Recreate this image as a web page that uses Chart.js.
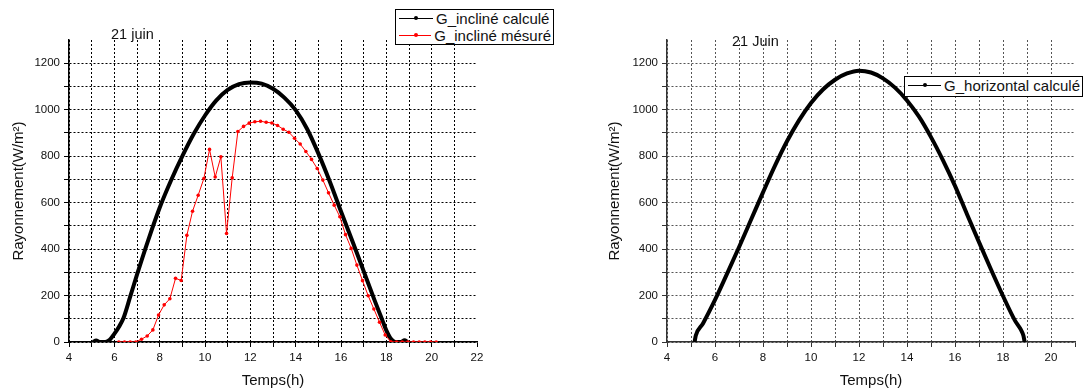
<!DOCTYPE html>
<html>
<head>
<meta charset="utf-8">
<script src="https://cdn.jsdelivr.net/npm/chart.js@4.4.0/dist/chart.umd.min.js"></script>
<style>
body{margin:0;background:#fff;font-family:"Liberation Sans",Arial,sans-serif;}
#wrap{position:relative;width:1084px;height:392px;overflow:hidden;}
.panel{position:absolute;top:0;width:542px;height:392px;}
.note{position:absolute;font-size:14.5px;color:#111;line-height:1;white-space:nowrap;}
.leg{position:absolute;border:1px solid #000;background:#fff;font-size:15px;color:#111;padding:0 2px 0 3px;}
.leg div{height:17px;line-height:17px;white-space:nowrap;display:flex;align-items:center;}
.leg .smp{display:inline-block;width:34px;height:0;border-top:1px solid;position:relative;margin-right:3px;}
.leg .smp i{position:absolute;left:15px;top:-3px;width:4px;height:4px;border-radius:2px;}
</style>
</head>
<body>
<div id="wrap">
  <div class="panel" style="left:0"><canvas id="chartIncline" width="542" height="392"></canvas></div>
  <div class="panel" style="left:542px"><canvas id="chartHoriz" width="542" height="392"></canvas></div>
  <div class="note" style="left:111px;top:27px">21 juin</div>
  <div class="note" style="left:732px;top:34px">21 Juin</div>
  <div class="leg" id="legIncline" style="left:395px;top:9px;width:152px;height:34px"></div>
  <div class="leg" id="legHoriz" style="left:904px;top:76px;width:172px;height:19px"></div>
</div>
<script>
// Donnees (21 juin)
var tempsCalc = [5.05, 5.2, 5.35, 5.6, 5.8, 6, 6.2, 6.4, 6.7, 7, 7.5, 8, 8.5, 9, 9.5, 10, 10.5, 11, 11.5, 12,
                 12.5, 13, 13.5, 14, 14.5, 15, 15.5, 16, 16.5, 17, 17.5, 17.8, 18, 18.2, 18.4, 18.65, 18.8, 18.95];
var gInclineCalc = [0, 6, 0, 0, 10, 35, 65, 102, 195, 290, 440, 578, 695, 800, 895, 975, 1040, 1085, 1110, 1117,
                    1112, 1090, 1052, 998, 918, 812, 692, 562, 435, 305, 175, 100, 50, 14, 0, 0, 7, 0];

var tempsMesure = [6.2, 6.45, 6.7, 6.95, 7.2, 7.45, 7.7, 7.95, 8.2, 8.45, 8.7, 8.95, 9.2, 9.45, 9.7, 9.95,
                   10.2, 10.45, 10.7, 10.95, 11.2, 11.45, 11.7, 11.95, 12.2, 12.45, 12.7, 12.95, 13.2, 13.45,
                   13.7, 13.95, 14.2, 14.45, 14.7, 14.95, 15.2, 15.45, 15.7, 15.95, 16.2, 16.45, 16.7, 16.95,
                   17.2, 17.45, 17.7, 17.95, 18.2, 18.45, 18.7, 18.95, 19.2, 19.45, 19.7, 19.95, 20.2];
var gInclineMesure = [0, 0, 0, 0, 12, 26, 52, 116, 160, 186, 274, 265, 459, 563, 632, 704,
                      829, 710, 797, 467, 707, 906, 928, 942, 948, 950, 946, 943, 932, 916,
                      903, 877, 852, 820, 786, 747, 697, 642, 589, 539, 462, 403, 331, 264,
                      199, 142, 85, 30, 1, 0, 0, 0, 0, 0, 0, 0, 0];

var tempsHoriz = [5.15, 5.2, 5.5, 6, 6.5, 7, 7.5, 8, 8.5, 9, 9.5, 10, 10.5, 11, 11.5, 12, 12.5, 13,
                  13.5, 14, 14.5, 15, 15.5, 16, 16.5, 17, 17.5, 18, 18.5, 18.75, 18.85, 18.9];
var gHorizCalc = [0, 28, 80, 181, 293, 408, 526, 644, 759, 864, 954, 1029, 1087, 1129, 1156, 1168, 1160, 1135,
                  1095, 1040, 970, 882, 782, 672, 550, 430, 312, 198, 92, 52, 28, 0];

var yTicks = [0, 200, 400, 600, 800, 1000, 1200];
var xTicksGauche = [4, 6, 8, 10, 12, 14, 16, 18, 20, 22];
var xTicksDroite = [4, 6, 8, 10, 12, 14, 16, 18, 20];

Chart.defaults.font.family = '"Liberation Sans", Arial, sans-serif';
Chart.defaults.color = '#111';

function points(xs, ys) {
  return xs.map(function (x, i) { return {x: x, y: ys[i]}; });
}

function makeScales(xMax, xLabels, yAxisWidth, titlePad, gridColor, axisColor) {
  return {
    x: {
      type: 'linear', min: 4, max: xMax,
      afterFit: function (s) { s.height = 50; },
      ticks: {
        stepSize: 1, autoSkip: false, maxRotation: 0, padding: 4,
        font: {size: 11.5},
        callback: function (v) { return xLabels.indexOf(v) >= 0 ? v : ''; }
      },
      grid: {
        color: function (c) { return (c.tick && c.tick.value === xMax) ? 'rgba(0,0,0,0)' : gridColor; },
        tickColor: axisColor, tickLength: 5, lineWidth: 1
      },
      border: {display: true, color: axisColor, width: 1.5, dash: [2, 2]},
      title: {display: true, text: 'Temps(h)', font: {size: 15}, padding: {top: 0, bottom: 2}, color: '#111'}
    },
    y: {
      type: 'linear', min: 0, max: 1300,
      afterFit: function (s) { s.width = yAxisWidth; },
      ticks: {
        stepSize: 100, autoSkip: false, padding: 4,
        font: {size: 11.5},
        callback: function (v) { return yTicks.indexOf(v) >= 0 ? v : ''; }
      },
      grid: {
        color: function (c) { return (c.tick && c.tick.value === 1300) ? 'rgba(0,0,0,0)' : gridColor; },
        tickColor: function (c) { return (c.tick && c.tick.value === 1300) ? 'rgba(0,0,0,0)' : axisColor; },
        tickLength: 5, lineWidth: 1
      },
      border: {display: true, color: axisColor, width: 1.5, dash: [2, 2]},
      title: {display: true, text: 'Rayonnement(W/m²)', font: {size: 15}, padding: {top: titlePad, bottom: 0}, color: '#111'}
    }
  };
}

// Graphique 1 : plan incline
var chartIncline = new Chart(document.getElementById('chartIncline'), {
  type: 'line',
  data: {
    datasets: [{
      label: 'G_incliné calculé',
      data: points(tempsCalc, gInclineCalc),
      borderColor: '#000', backgroundColor: '#000',
      borderWidth: 4, pointRadius: 0,
      cubicInterpolationMode: 'monotone',
      order: 2
    }, {
      label: 'G_incliné mésuré',
      data: points(tempsMesure, gInclineMesure),
      borderColor: '#ff0000', backgroundColor: '#ff0000',
      borderWidth: 1, pointRadius: 1.8, pointBorderWidth: 0,
      pointBackgroundColor: '#ff0000',
      order: 1
    }]
  },
  options: {
    responsive: false, animation: false, devicePixelRatio: 1,
    layout: {padding: {top: 40, right: 65, left: 0, bottom: 0}},
    plugins: {legend: {display: false}, tooltip: {enabled: false}},
    scales: makeScales(22, xTicksGauche, 69, 10, '#000', '#000')
  }
});

// Graphique 2 : plan horizontal
var chartHoriz = new Chart(document.getElementById('chartHoriz'), {
  type: 'line',
  data: {
    datasets: [{
      label: 'G_horizontal calculé',
      data: points(tempsHoriz, gHorizCalc),
      borderColor: '#000', backgroundColor: '#000',
      borderWidth: 4, pointRadius: 0,
      cubicInterpolationMode: 'monotone'
    }]
  },
  options: {
    responsive: false, animation: false, devicePixelRatio: 1,
    layout: {padding: {top: 40, right: 9, left: 0, bottom: 0}},
    plugins: {legend: {display: false}, tooltip: {enabled: false}},
    scales: makeScales(21, xTicksDroite, 125, 64, '#555', '#333')
  }
});

// Legendes en HTML
function buildLegend(el, chart, order) {
  order.forEach(function (i) {
    var ds = chart.data.datasets[i];
    var row = document.createElement('div');
    var smp = document.createElement('span');
    smp.className = 'smp';
    smp.style.borderColor = ds.borderColor;
    var dot = document.createElement('i');
    dot.style.background = ds.borderColor;
    smp.appendChild(dot);
    row.appendChild(smp);
    row.appendChild(document.createTextNode(ds.label));
    el.appendChild(row);
  });
}
buildLegend(document.getElementById('legIncline'), chartIncline, [0, 1]);
buildLegend(document.getElementById('legHoriz'), chartHoriz, [0]);
</script>
</body>
</html>
